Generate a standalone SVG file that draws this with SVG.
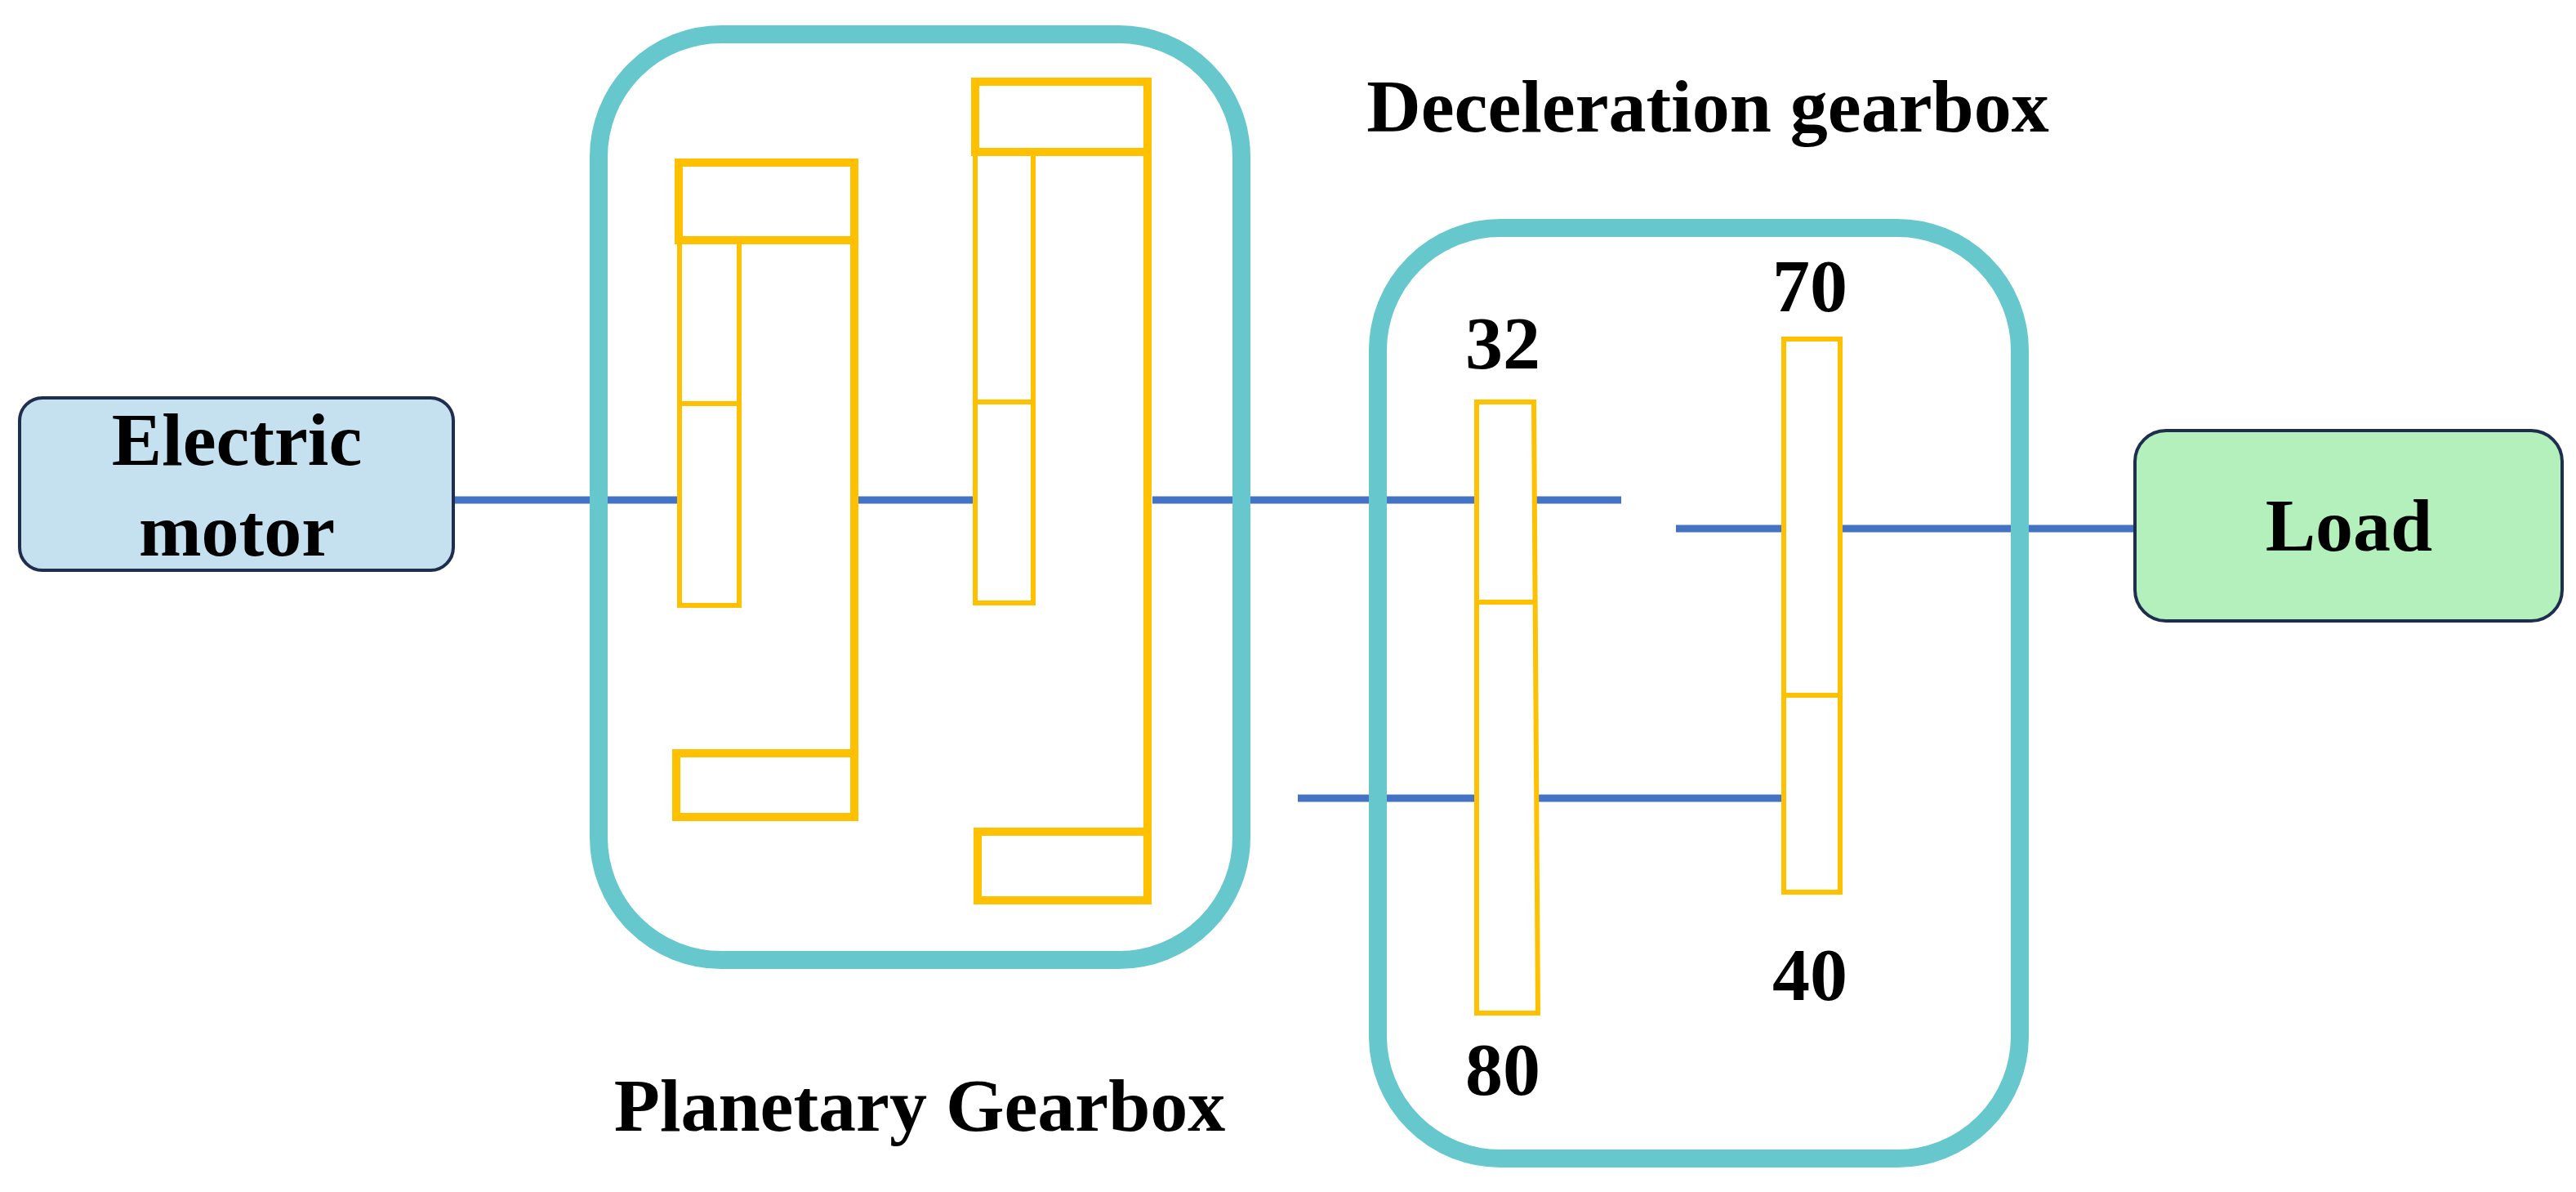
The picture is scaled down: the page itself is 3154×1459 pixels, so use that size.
<svg xmlns="http://www.w3.org/2000/svg" width="3154" height="1459" viewBox="0 0 3154 1459">
<style>
.box{fill:none;stroke:#66c8cc;stroke-width:22}
.ring{fill:none;stroke:#ffc000;stroke-width:10}
.g{fill:none;stroke:#ffc000;stroke-width:6}
.sh{stroke:#4472c4;stroke-width:9;fill:none}
.t{font-family:"Liberation Serif",serif;font-weight:bold;font-size:92px;fill:#000;text-anchor:middle}
</style>
<rect width="3154" height="1459" fill="#fff"/>
<g id="connectors">
<path class="sh" d="M555 612H829M1051 612H1191M1411 612H1807M1881 612H1985M2052 647H2183M2253 647H2614M1589 977H1807M1881 977H2183"/>
</g>
<g id="planetary">
<rect class="box" x="733" y="42" width="787" height="1133" rx="150"/>
<rect class="ring" x="831" y="199" width="215" height="95"/>
<rect class="ring" x="828" y="922" width="218" height="78"/>
<line class="ring" x1="1046" y1="194" x2="1046" y2="1005"/>
<path class="g" d="M832 294V741H905V294M832 494H905"/>
<rect class="ring" x="1194" y="100" width="211" height="86"/>
<rect class="ring" x="1197" y="1018" width="208" height="84"/>
<line class="ring" x1="1405" y1="95" x2="1405" y2="1107"/>
<path class="g" d="M1194 186V738H1265V186M1194 492H1265"/>
<text class="t" x="1126" y="1384">Planetary Gearbox</text>
</g>
<g id="deceleration">
<rect class="box" x="1687" y="279" width="786" height="1139" rx="150"/>
<path class="g" d="M1808 492H1878L1883 1240H1808ZM1808 737H1879"/>
<path class="g" d="M2184 415H2253V1092H2184ZM2184 851H2256"/>
<text class="t" x="1840" y="451">32</text>
<text class="t" x="1840" y="1340">80</text>
<text class="t" x="2216" y="381">70</text>
<text class="t" x="2216" y="1224">40</text>
<text class="t" x="2091" y="161">Deceleration gearbox</text>
</g>
<g id="motor">
<rect x="24" y="487" width="531" height="211" rx="28" fill="#c5e0ef" stroke="#1f2d4e" stroke-width="4"/>
<text class="t" x="290" y="569">Electric</text>
<text class="t" x="290" y="680">motor</text>
</g>
<g id="load">
<rect x="2614" y="527" width="523" height="233" rx="38" fill="#b4f0bc" stroke="#1f2d4e" stroke-width="4"/>
<text class="t" x="2876" y="674">Load</text>
</g>
</svg>
